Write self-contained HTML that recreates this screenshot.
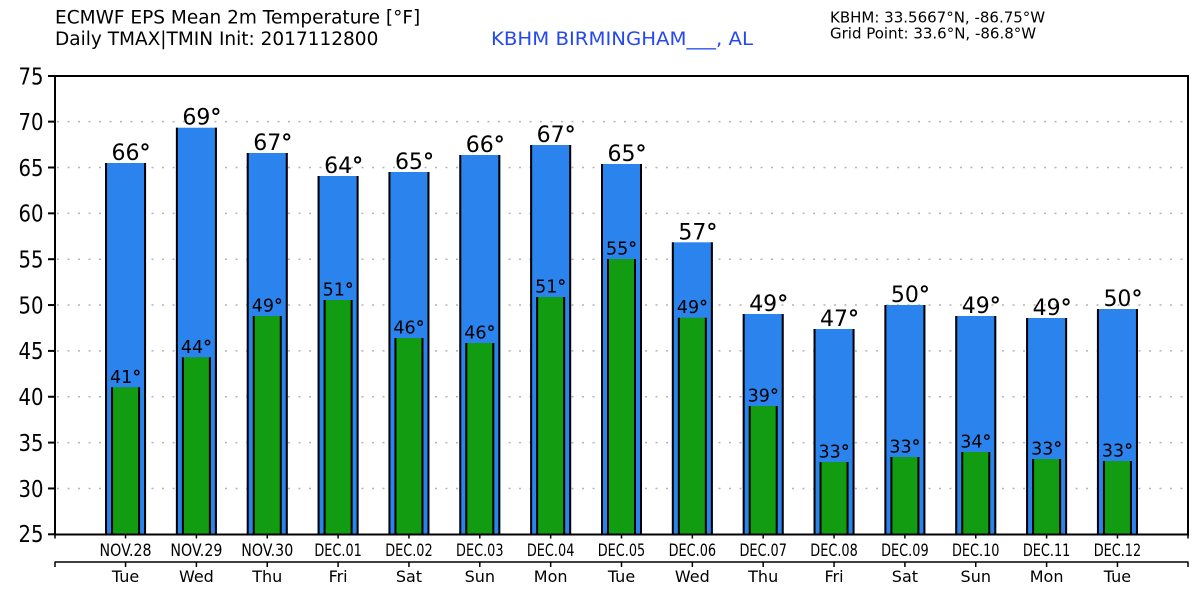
<!DOCTYPE html>
<html><head><meta charset="utf-8"><style>
html,body{margin:0;padding:0;background:#fff;}
svg{display:block;}
text{font-family:"DejaVu Sans","Liberation Sans",sans-serif;}
.d{font-weight:bold;}
</style></head><body>
<svg width="1200" height="600" viewBox="0 0 1200 600" xmlns="http://www.w3.org/2000/svg">
<rect x="0" y="0" width="1200" height="600" fill="#fff"/>
<!-- titles -->
<text x="55" y="23.5" font-size="18.5" fill="#000">ECMWF EPS Mean 2m Temperature [°F]</text>
<text x="55" y="45" font-size="18.5" fill="#000">Daily TMAX|TMIN Init: 2017112800</text>
<text x="491" y="45" font-size="18.5" fill="#2548f0" textLength="262" lengthAdjust="spacingAndGlyphs">KBHM BIRMINGHAM___, AL</text>
<text x="830" y="22.7" font-size="15" fill="#000">KBHM: 33.5667°N, -86.75°W</text>
<text x="830" y="38.5" font-size="15" fill="#000">Grid Point: 33.6°N, -86.8°W</text>

<!-- gridlines -->
<g stroke="#b4b4b4" stroke-width="1.5" stroke-dasharray="2 8.5">
<line x1="57" x2="1187" y1="488.45" y2="488.45"/>
<line x1="57" x2="1187" y1="442.6" y2="442.6"/>
<line x1="57" x2="1187" y1="396.75" y2="396.75"/>
<line x1="57" x2="1187" y1="350.9" y2="350.9"/>
<line x1="57" x2="1187" y1="305.05" y2="305.05"/>
<line x1="57" x2="1187" y1="259.2" y2="259.2"/>
<line x1="57" x2="1187" y1="213.35" y2="213.35"/>
<line x1="57" x2="1187" y1="167.5" y2="167.5"/>
<line x1="57" x2="1187" y1="121.65" y2="121.65"/>
</g>

<!-- bars -->
<g id="bars">
<g transform="translate(125.55 0)"><rect x="-20.5" y="163" width="41" height="380" fill="#2b83ed"/><rect x="-20.5" y="163" width="2" height="380" fill="#000"/><rect x="18.5" y="163" width="2" height="380" fill="#000"/><rect x="-14.5" y="387.3" width="29" height="200" fill="#119c11"/><rect x="-14.5" y="387.3" width="2" height="200" fill="#000"/><rect x="12.5" y="387.3" width="2" height="200" fill="#000"/></g>
<g transform="translate(196.4 0)"><rect x="-20.5" y="127.7" width="41" height="420" fill="#2b83ed"/><rect x="-20.5" y="127.7" width="2" height="420" fill="#000"/><rect x="18.5" y="127.7" width="2" height="420" fill="#000"/><rect x="-14.5" y="357.3" width="29" height="200" fill="#119c11"/><rect x="-14.5" y="357.3" width="2" height="200" fill="#000"/><rect x="12.5" y="357.3" width="2" height="200" fill="#000"/></g>
<g transform="translate(267.25 0)"><rect x="-20.5" y="153" width="41" height="400" fill="#2b83ed"/><rect x="-20.5" y="153" width="2" height="400" fill="#000"/><rect x="18.5" y="153" width="2" height="400" fill="#000"/><rect x="-14.5" y="316" width="29" height="240" fill="#119c11"/><rect x="-14.5" y="316" width="2" height="240" fill="#000"/><rect x="12.5" y="316" width="2" height="240" fill="#000"/></g>
<g transform="translate(338.1 0)"><rect x="-20.5" y="176" width="41" height="380" fill="#2b83ed"/><rect x="-20.5" y="176" width="2" height="380" fill="#000"/><rect x="18.5" y="176" width="2" height="380" fill="#000"/><rect x="-14.5" y="300" width="29" height="250" fill="#119c11"/><rect x="-14.5" y="300" width="2" height="250" fill="#000"/><rect x="12.5" y="300" width="2" height="250" fill="#000"/></g>
<g transform="translate(408.95 0)"><rect x="-20.5" y="172" width="41" height="380" fill="#2b83ed"/><rect x="-20.5" y="172" width="2" height="380" fill="#000"/><rect x="18.5" y="172" width="2" height="380" fill="#000"/><rect x="-14.5" y="338" width="29" height="220" fill="#119c11"/><rect x="-14.5" y="338" width="2" height="220" fill="#000"/><rect x="12.5" y="338" width="2" height="220" fill="#000"/></g>
<g transform="translate(479.8 0)"><rect x="-20.5" y="155" width="41" height="400" fill="#2b83ed"/><rect x="-20.5" y="155" width="2" height="400" fill="#000"/><rect x="18.5" y="155" width="2" height="400" fill="#000"/><rect x="-14.5" y="343" width="29" height="220" fill="#119c11"/><rect x="-14.5" y="343" width="2" height="220" fill="#000"/><rect x="12.5" y="343" width="2" height="220" fill="#000"/></g>
<g transform="translate(550.65 0)"><rect x="-20.5" y="145" width="41" height="400" fill="#2b83ed"/><rect x="-20.5" y="145" width="2" height="400" fill="#000"/><rect x="18.5" y="145" width="2" height="400" fill="#000"/><rect x="-14.5" y="297" width="29" height="260" fill="#119c11"/><rect x="-14.5" y="297" width="2" height="260" fill="#000"/><rect x="12.5" y="297" width="2" height="260" fill="#000"/></g>
<g transform="translate(621.5 0)"><rect x="-20.5" y="164" width="41" height="380" fill="#2b83ed"/><rect x="-20.5" y="164" width="2" height="380" fill="#000"/><rect x="18.5" y="164" width="2" height="380" fill="#000"/><rect x="-14.5" y="259" width="29" height="300" fill="#119c11"/><rect x="-14.5" y="259" width="2" height="300" fill="#000"/><rect x="12.5" y="259" width="2" height="300" fill="#000"/></g>
<g transform="translate(692.35 0)"><rect x="-20.5" y="242.3" width="41" height="300" fill="#2b83ed"/><rect x="-20.5" y="242.3" width="2" height="300" fill="#000"/><rect x="18.5" y="242.3" width="2" height="300" fill="#000"/><rect x="-14.5" y="317.7" width="29" height="240" fill="#119c11"/><rect x="-14.5" y="317.7" width="2" height="240" fill="#000"/><rect x="12.5" y="317.7" width="2" height="240" fill="#000"/></g>
<g transform="translate(763.2 0)"><rect x="-20.5" y="314" width="41" height="240" fill="#2b83ed"/><rect x="-20.5" y="314" width="2" height="240" fill="#000"/><rect x="18.5" y="314" width="2" height="240" fill="#000"/><rect x="-14.5" y="406" width="29" height="150" fill="#119c11"/><rect x="-14.5" y="406" width="2" height="150" fill="#000"/><rect x="12.5" y="406" width="2" height="150" fill="#000"/></g>
<g transform="translate(834.05 0)"><rect x="-20.5" y="329" width="41" height="220" fill="#2b83ed"/><rect x="-20.5" y="329" width="2" height="220" fill="#000"/><rect x="18.5" y="329" width="2" height="220" fill="#000"/><rect x="-14.5" y="462" width="29" height="100" fill="#119c11"/><rect x="-14.5" y="462" width="2" height="100" fill="#000"/><rect x="12.5" y="462" width="2" height="100" fill="#000"/></g>
<g transform="translate(904.9 0)"><rect x="-20.5" y="305" width="41" height="240" fill="#2b83ed"/><rect x="-20.5" y="305" width="2" height="240" fill="#000"/><rect x="18.5" y="305" width="2" height="240" fill="#000"/><rect x="-14.5" y="457" width="29" height="100" fill="#119c11"/><rect x="-14.5" y="457" width="2" height="100" fill="#000"/><rect x="12.5" y="457" width="2" height="100" fill="#000"/></g>
<g transform="translate(975.75 0)"><rect x="-20.5" y="316" width="41" height="240" fill="#2b83ed"/><rect x="-20.5" y="316" width="2" height="240" fill="#000"/><rect x="18.5" y="316" width="2" height="240" fill="#000"/><rect x="-14.5" y="452" width="29" height="100" fill="#119c11"/><rect x="-14.5" y="452" width="2" height="100" fill="#000"/><rect x="12.5" y="452" width="2" height="100" fill="#000"/></g>
<g transform="translate(1046.6 0)"><rect x="-20.5" y="318" width="41" height="240" fill="#2b83ed"/><rect x="-20.5" y="318" width="2" height="240" fill="#000"/><rect x="18.5" y="318" width="2" height="240" fill="#000"/><rect x="-14.5" y="459" width="29" height="100" fill="#119c11"/><rect x="-14.5" y="459" width="2" height="100" fill="#000"/><rect x="12.5" y="459" width="2" height="100" fill="#000"/></g>
<g transform="translate(1117.45 0)"><rect x="-20.5" y="309" width="41" height="240" fill="#2b83ed"/><rect x="-20.5" y="309" width="2" height="240" fill="#000"/><rect x="18.5" y="309" width="2" height="240" fill="#000"/><rect x="-14.5" y="461" width="29" height="100" fill="#119c11"/><rect x="-14.5" y="461" width="2" height="100" fill="#000"/><rect x="12.5" y="461" width="2" height="100" fill="#000"/></g>
</g>

<!-- cover below axis -->
<rect x="0" y="535.5" width="1200" height="64.5" fill="#fff"/>

<!-- value labels -->
<g font-size="22" text-anchor="middle" fill="#000">
<text x="131" y="160">66<tspan class="d">°</tspan></text>
<text x="201.9" y="124.7">69<tspan class="d">°</tspan></text>
<text x="272.75" y="150">67<tspan class="d">°</tspan></text>
<text x="343.6" y="173">64<tspan class="d">°</tspan></text>
<text x="414.45" y="169">65<tspan class="d">°</tspan></text>
<text x="485.3" y="152">66<tspan class="d">°</tspan></text>
<text x="556.15" y="142">67<tspan class="d">°</tspan></text>
<text x="627" y="161">65<tspan class="d">°</tspan></text>
<text x="697.85" y="239.3">57<tspan class="d">°</tspan></text>
<text x="768.7" y="311">49<tspan class="d">°</tspan></text>
<text x="839.55" y="326">47<tspan class="d">°</tspan></text>
<text x="910.4" y="302">50<tspan class="d">°</tspan></text>
<text x="981.25" y="313">49<tspan class="d">°</tspan></text>
<text x="1052.1" y="315">49<tspan class="d">°</tspan></text>
<text x="1122.95" y="306">50<tspan class="d">°</tspan></text>
</g>
<g font-size="17.5" text-anchor="middle" fill="#000">
<text x="125.55" y="382.8">41<tspan class="d">°</tspan></text>
<text x="196.4" y="352.8">44<tspan class="d">°</tspan></text>
<text x="267.25" y="311.5">49<tspan class="d">°</tspan></text>
<text x="338.1" y="295.5">51<tspan class="d">°</tspan></text>
<text x="408.95" y="333.5">46<tspan class="d">°</tspan></text>
<text x="479.8" y="338.5">46<tspan class="d">°</tspan></text>
<text x="550.65" y="292.5">51<tspan class="d">°</tspan></text>
<text x="621.5" y="254.5">55<tspan class="d">°</tspan></text>
<text x="692.35" y="313.2">49<tspan class="d">°</tspan></text>
<text x="763.2" y="401.5">39<tspan class="d">°</tspan></text>
<text x="834.05" y="457.5">33<tspan class="d">°</tspan></text>
<text x="904.9" y="452.5">33<tspan class="d">°</tspan></text>
<text x="975.75" y="447.5">34<tspan class="d">°</tspan></text>
<text x="1046.6" y="454.5">33<tspan class="d">°</tspan></text>
<text x="1117.45" y="456.5">33<tspan class="d">°</tspan></text>
</g>

<!-- spines -->
<rect x="55" y="76" width="1133" height="458.5" fill="none" stroke="#000" stroke-width="2"/>

<!-- y ticks -->
<g stroke="#000" stroke-width="2">
<line x1="48" x2="55" y1="534.3" y2="534.3"/>
<line x1="48" x2="55" y1="488.45" y2="488.45"/>
<line x1="48" x2="55" y1="442.6" y2="442.6"/>
<line x1="48" x2="55" y1="396.75" y2="396.75"/>
<line x1="48" x2="55" y1="350.9" y2="350.9"/>
<line x1="48" x2="55" y1="305.05" y2="305.05"/>
<line x1="48" x2="55" y1="259.2" y2="259.2"/>
<line x1="48" x2="55" y1="213.35" y2="213.35"/>
<line x1="48" x2="55" y1="167.5" y2="167.5"/>
<line x1="48" x2="55" y1="121.65" y2="121.65"/>
<line x1="48" x2="55" y1="76" y2="76"/>
</g>
<g font-size="23" text-anchor="end" fill="#000">
<text x="43.5" y="542" textLength="25" lengthAdjust="spacingAndGlyphs">25</text>
<text x="43.5" y="496.75" textLength="25" lengthAdjust="spacingAndGlyphs">30</text>
<text x="43.5" y="450.9" textLength="25" lengthAdjust="spacingAndGlyphs">35</text>
<text x="43.5" y="405.05" textLength="25" lengthAdjust="spacingAndGlyphs">40</text>
<text x="43.5" y="359.2" textLength="25" lengthAdjust="spacingAndGlyphs">45</text>
<text x="43.5" y="313.35" textLength="25" lengthAdjust="spacingAndGlyphs">50</text>
<text x="43.5" y="267.5" textLength="25" lengthAdjust="spacingAndGlyphs">55</text>
<text x="43.5" y="221.65" textLength="25" lengthAdjust="spacingAndGlyphs">60</text>
<text x="43.5" y="175.8" textLength="25" lengthAdjust="spacingAndGlyphs">65</text>
<text x="43.5" y="129.95" textLength="25" lengthAdjust="spacingAndGlyphs">70</text>
<text x="43.5" y="84.5" textLength="25" lengthAdjust="spacingAndGlyphs">75</text>
</g>

<!-- x ticks -->
<g stroke="#000" stroke-width="1.5">
<line x1="55" x2="55" y1="534" y2="538.5"/>
<line x1="125.55" x2="125.55" y1="534" y2="538.5"/>
<line x1="196.4" x2="196.4" y1="534" y2="538.5"/>
<line x1="267.25" x2="267.25" y1="534" y2="538.5"/>
<line x1="338.1" x2="338.1" y1="534" y2="538.5"/>
<line x1="408.95" x2="408.95" y1="534" y2="538.5"/>
<line x1="479.8" x2="479.8" y1="534" y2="538.5"/>
<line x1="550.65" x2="550.65" y1="534" y2="538.5"/>
<line x1="621.5" x2="621.5" y1="534" y2="538.5"/>
<line x1="692.35" x2="692.35" y1="534" y2="538.5"/>
<line x1="763.2" x2="763.2" y1="534" y2="538.5"/>
<line x1="834.05" x2="834.05" y1="534" y2="538.5"/>
<line x1="904.9" x2="904.9" y1="534" y2="538.5"/>
<line x1="975.75" x2="975.75" y1="534" y2="538.5"/>
<line x1="1046.6" x2="1046.6" y1="534" y2="538.5"/>
<line x1="1117.45" x2="1117.45" y1="534" y2="538.5"/>
<line x1="1188" x2="1188" y1="534" y2="538.5"/>
<line x1="54.5" x2="1188.5" y1="562" y2="562"/>
<line x1="55" x2="55" y1="562" y2="567"/>
<line x1="125.55" x2="125.55" y1="562" y2="567"/>
<line x1="196.4" x2="196.4" y1="562" y2="567"/>
<line x1="267.25" x2="267.25" y1="562" y2="567"/>
<line x1="338.1" x2="338.1" y1="562" y2="567"/>
<line x1="408.95" x2="408.95" y1="562" y2="567"/>
<line x1="479.8" x2="479.8" y1="562" y2="567"/>
<line x1="550.65" x2="550.65" y1="562" y2="567"/>
<line x1="621.5" x2="621.5" y1="562" y2="567"/>
<line x1="692.35" x2="692.35" y1="562" y2="567"/>
<line x1="763.2" x2="763.2" y1="562" y2="567"/>
<line x1="834.05" x2="834.05" y1="562" y2="567"/>
<line x1="904.9" x2="904.9" y1="562" y2="567"/>
<line x1="975.75" x2="975.75" y1="562" y2="567"/>
<line x1="1046.6" x2="1046.6" y1="562" y2="567"/>
<line x1="1117.45" x2="1117.45" y1="562" y2="567"/>
<line x1="1188" x2="1188" y1="562" y2="567"/>
</g>

<!-- date labels -->
<g font-size="16.5" text-anchor="middle" fill="#000">
<text x="125.55" y="556" textLength="52" lengthAdjust="spacingAndGlyphs">NOV.28</text>
<text x="196.4" y="556" textLength="52" lengthAdjust="spacingAndGlyphs">NOV.29</text>
<text x="267.25" y="556" textLength="52" lengthAdjust="spacingAndGlyphs">NOV.30</text>
<text x="338.1" y="556" textLength="47.5" lengthAdjust="spacingAndGlyphs">DEC.01</text>
<text x="408.95" y="556" textLength="47.5" lengthAdjust="spacingAndGlyphs">DEC.02</text>
<text x="479.8" y="556" textLength="47.5" lengthAdjust="spacingAndGlyphs">DEC.03</text>
<text x="550.65" y="556" textLength="47.5" lengthAdjust="spacingAndGlyphs">DEC.04</text>
<text x="621.5" y="556" textLength="47.5" lengthAdjust="spacingAndGlyphs">DEC.05</text>
<text x="692.35" y="556" textLength="47.5" lengthAdjust="spacingAndGlyphs">DEC.06</text>
<text x="763.2" y="556" textLength="47.5" lengthAdjust="spacingAndGlyphs">DEC.07</text>
<text x="834.05" y="556" textLength="47.5" lengthAdjust="spacingAndGlyphs">DEC.08</text>
<text x="904.9" y="556" textLength="47.5" lengthAdjust="spacingAndGlyphs">DEC.09</text>
<text x="975.75" y="556" textLength="47.5" lengthAdjust="spacingAndGlyphs">DEC.10</text>
<text x="1046.6" y="556" textLength="47.5" lengthAdjust="spacingAndGlyphs">DEC.11</text>
<text x="1117.45" y="556" textLength="47.5" lengthAdjust="spacingAndGlyphs">DEC.12</text>
</g>
<g font-size="16" text-anchor="middle" fill="#000">
<text x="125.55" y="582">Tue</text>
<text x="196.4" y="582">Wed</text>
<text x="267.25" y="582">Thu</text>
<text x="338.1" y="582">Fri</text>
<text x="408.95" y="582">Sat</text>
<text x="479.8" y="582">Sun</text>
<text x="550.65" y="582">Mon</text>
<text x="621.5" y="582">Tue</text>
<text x="692.35" y="582">Wed</text>
<text x="763.2" y="582">Thu</text>
<text x="834.05" y="582">Fri</text>
<text x="904.9" y="582">Sat</text>
<text x="975.75" y="582">Sun</text>
<text x="1046.6" y="582">Mon</text>
<text x="1117.45" y="582">Tue</text>
</g>
</svg>
</body></html>
